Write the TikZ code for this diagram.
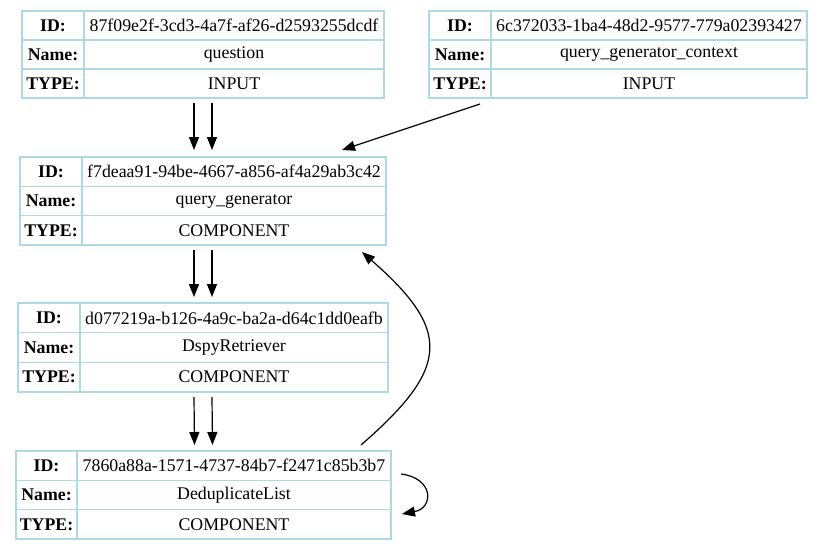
\documentclass[tikz,border=0pt]{standalone}
\usepackage{fontspec}
\setmainfont{Liberation Serif}
\usetikzlibrary{arrows.meta,fit}
\definecolor{cellblue}{HTML}{ADD8E6}
\tikzset{
  cell/.style={draw=cellblue, line width=1.2pt, inner sep=0pt, outer sep=0pt,
    font=\fontsize{17.8}{20}\selectfont, anchor=north west},
  keycell/.style={cell, font=\fontsize{17.8}{20}\selectfont\bfseries},
  arr/.style={-{Triangle[length=13pt,width=10pt]}, line width=1.2pt, black},
  tblbox/.style={inner sep=0pt, outer sep=0pt}
}
% #1 name, #2 left, #3 top, #4 divider, #5 right, #6 bottom, #7 id, #8 name, #9 type
\newcommand\mytable[9]{%
  \pgfmathsetmacro\myrh{(#6-#3)/3}%
  \pgfmathsetmacro\mylw{#4-#2}%
  \pgfmathsetmacro\myvw{#5-#4}%
  \pgfmathsetmacro\myrowb{#3+\myrh}%
  \pgfmathsetmacro\myrowc{#3+2*\myrh}%
  \node[keycell, minimum width=\mylw pt, minimum height=\myrh pt] (#1-k1) at (#2,#3) {ID:};
  \node[cell, minimum width=\myvw pt, minimum height=\myrh pt] (#1-v1) at (#4,#3) {#7};
  \node[keycell, minimum width=\mylw pt, minimum height=\myrh pt] (#1-k2) at (#2,\myrowb) {Name:};
  \node[cell, minimum width=\myvw pt, minimum height=\myrh pt] (#1-v2) at (#4,\myrowb) {#8};
  \node[keycell, minimum width=\mylw pt, minimum height=\myrh pt] (#1-k3) at (#2,\myrowc) {TYPE:};
  \node[cell, minimum width=\myvw pt, minimum height=\myrh pt] (#1-v3) at (#4,\myrowc) {#9};
  \node[fit=(#1-k1)(#1-v3), tblbox] (#1) {};
}
\begin{document}
\begin{tikzpicture}[x=1pt,y=-1pt]
\useasboundingbox (0,0) rectangle (823,549);
\fill[white] (0,0) rectangle (823,549);

\mytable{q}{22}{11}{84}{384}{98}{87f09e2f-3cd3-4a7f-af26-d2593255dcdf}{question}{INPUT}
\mytable{ctx}{429}{11}{491}{807}{98}{6c372033-1ba4-48d2-9577-779a02393427}{query\_generator\_context}{INPUT}
\mytable{qg}{20}{157}{82}{386}{245}{f7deaa91-94be-4667-a856-af4a29ab3c42}{query\_generator}{COMPONENT}
\mytable{ret}{18}{303}{80}{388}{392}{d077219a-b126-4a9c-ba2a-d64c1dd0eafb}{DspyRetriever}{COMPONENT}
\mytable{dd}{16}{451}{77}{391}{539}{7860a88a-1571-4737-84b7-f2471c85b3b7}{DeduplicateList}{COMPONENT}

% q -> qg (two edges)
\draw[arr] ([xshift=-9pt,yshift=-5pt]q.south) -- ([xshift=-9pt,yshift=7pt]qg.north);
\draw[arr] ([xshift=9pt,yshift=-5pt]q.south) -- ([xshift=9pt,yshift=7pt]qg.north);
% ctx -> qg
\draw[arr] ([xshift=51pt,yshift=-6pt]ctx.south west) -- ([xshift=-44pt,yshift=7pt]qg.north east);
% qg -> ret (two edges)
\draw[arr] ([xshift=-9pt,yshift=-5pt]qg.south) -- ([xshift=-9pt,yshift=6pt]ret.north);
\draw[arr] ([xshift=9pt,yshift=-5pt]qg.south) -- ([xshift=9pt,yshift=6pt]ret.north);
% ret -> dd (two edges)
\draw[arr] ([xshift=-9pt,yshift=-5pt]ret.south) -- ([xshift=-9pt,yshift=6pt]dd.north);
\draw[arr] ([xshift=9pt,yshift=-5pt]ret.south) -- ([xshift=9pt,yshift=6pt]dd.north);
% dd -> qg (back edge)
\draw[arr] ([xshift=-30pt,yshift=6pt]dd.north east) .. controls (451,367) and (451,330) .. ([xshift=-24pt,yshift=-7pt]qg.south east);
% dd self loop
\draw[arr] ([xshift=10pt,yshift=-23pt]dd.north east) .. controls (434,478) and (434,508) .. ([xshift=11pt,yshift=-63pt]dd.north east);
\end{tikzpicture}
\end{document}
